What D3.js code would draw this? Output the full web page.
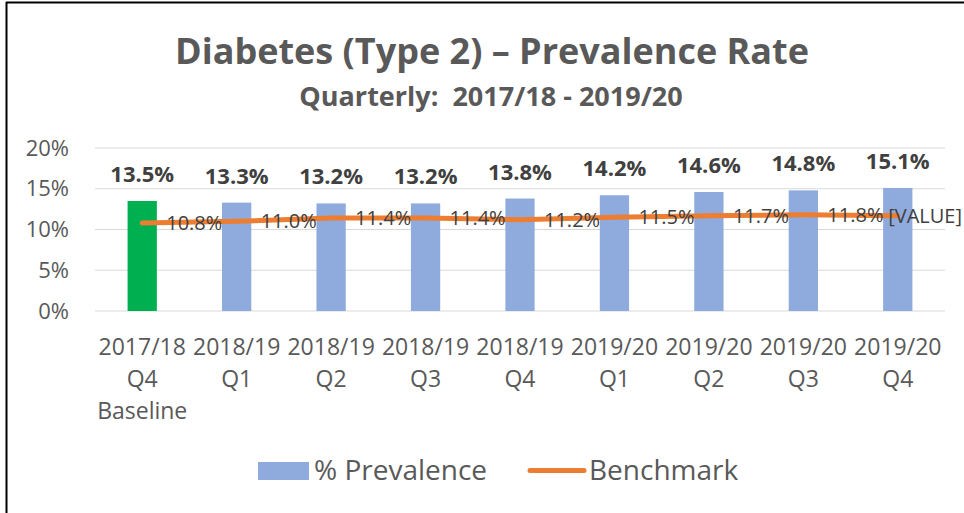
<!DOCTYPE html>
<html>
<head>
<meta charset="utf-8">
<script src="https://cdn.jsdelivr.net/npm/d3@7"></script>
<style>
  body { margin: 0; background: #fff; }
  svg { display: block; }
  text { font-family: "Open Sans", "Noto Sans", sans-serif; }
</style>
</head>
<body>
<div id="chart"></div>
<script>
const width = 964;
const height = 513;
const margin = { top: 148, right: 19, bottom: 202, left: 95 };

// data
const categories = [
    ["2017/18", "Q4", "Baseline"],
    ["2018/19", "Q1"],
    ["2018/19", "Q2"],
    ["2018/19", "Q3"],
    ["2018/19", "Q4"],
    ["2019/20", "Q1"],
    ["2019/20", "Q2"],
    ["2019/20", "Q3"],
    ["2019/20", "Q4"]
];
const prevalence = [13.5, 13.3, 13.2, 13.2, 13.8, 14.2, 14.6, 14.8, 15.1];
const benchmark = [10.8, 11.0, 11.4, 11.4, 11.2, 11.5, 11.7, 11.8, 11.7];
const benchmarkLabels = ["10.8%", "11.0%", "11.4%", "11.4%", "11.2%", "11.5%", "11.7%", "11.8%", "[VALUE]"];
const yTicks = [0, 5, 10, 15, 20];

const keys = categories.map((c, i) => i);

const svg = d3.select("#chart")
    .append("svg")
    .attr("width", width)
    .attr("height", height);

// frame (only top and left edges show)
svg.append("line")
    .attr("x1", 6).attr("x2", width).attr("y1", 2.5).attr("y2", 2.5)
    .attr("stroke", "#000").attr("stroke-width", 2);
svg.append("line")
    .attr("x1", 6.5).attr("x2", 6.5).attr("y1", 2).attr("y2", height)
    .attr("stroke", "#000").attr("stroke-width", 2);

svg.append("text")
    .attr("x", 492).attr("y", 64)
    .attr("text-anchor", "middle")
    .attr("font-size", 36).attr("font-weight", "bold")
    .attr("fill", "#595959")
    .text("Diabetes (Type 2) \u2013 Prevalence Rate");

svg.append("text")
    .attr("x", 491).attr("y", 106)
    .attr("text-anchor", "middle")
    .attr("font-size", 27).attr("font-weight", "bold")
    .attr("fill", "#595959")
    .style("white-space", "pre")
    .text("Quarterly:  2017/18 - 2019/20");

const x = d3.scaleBand()
    .domain(keys)
    .range([margin.left, width - margin.right])
    .paddingInner(0.69)
    .paddingOuter(0.345);

const y = d3.scaleLinear()
    .domain([0, 20])
    .range([height - margin.bottom, margin.top]);

// gridlines
svg.append("g")
    .selectAll("line")
    .data(yTicks)
    .join("line")
    .attr("x1", margin.left)
    .attr("x2", width - margin.right)
    .attr("y1", d => y(d))
    .attr("y2", d => y(d))
    .attr("stroke", "#d9d9d9")
    .attr("stroke-width", 1);

const yAxis = d3.axisLeft(y)
    .tickValues(yTicks)
    .tickFormat(d => d + "%")
    .tickSize(0)
    .tickPadding(26);

svg.append("g")
    .attr("transform", `translate(${margin.left},0)`)
    .call(yAxis)
    .call(g => g.select(".domain").remove())
    .selectAll("text")
    .attr("font-size", 22)
    .attr("font-family", "Open Sans")
    .attr("fill", "#595959");

// bars
svg.append("g")
    .selectAll("rect")
    .data(prevalence)
    .join("rect")
    .attr("x", (d, i) => x(i))
    .attr("y", d => y(d))
    .attr("width", x.bandwidth())
    .attr("height", d => y(0) - y(d))
    .attr("fill", (d, i) => i === 0 ? "#00b050" : "#8faadc");

svg.append("g")
    .selectAll("text")
    .data(prevalence)
    .join("text")
    .attr("x", (d, i) => x(i) + x.bandwidth() / 2)
    .attr("y", d => y(d) - 19)
    .attr("text-anchor", "middle")
    .attr("font-size", 22)
    .attr("font-weight", "bold")
    .attr("fill", "#404040")
    .text(d => d.toFixed(1) + "%");

// benchmark line
const line = d3.line()
    .x((d, i) => x(i) + x.bandwidth() / 2)
    .y(d => y(d));

svg.append("path")
    .datum(benchmark)
    .attr("d", line)
    .attr("fill", "none")
    .attr("stroke", "#ed7d31")
    .attr("stroke-width", 5)
    .attr("stroke-linecap", "round")
    .attr("stroke-linejoin", "round");

// labels sit right of each point, pulled back in if they would run off the edge
svg.append("g")
    .selectAll("text")
    .data(benchmark)
    .join("text")
    .attr("y", d => y(d) + 7)
    .attr("font-size", 20)
    .attr("fill", "#404040")
    .text((d, i) => benchmarkLabels[i])
    .attr("x", function (d, i) {
        const len = this.getComputedTextLength();
        return Math.min(x(i) + x.bandwidth() / 2 + 24, width - 2 - len);
    });

// x category labels
const xLabels = svg.append("g")
    .selectAll("text")
    .data(categories)
    .join("text")
    .attr("x", (d, i) => x(i) + x.bandwidth() / 2)
    .attr("y", 355)
    .attr("text-anchor", "middle")
    .attr("font-size", 23)
    .attr("fill", "#595959");

xLabels.selectAll("tspan")
    .data(d => d)
    .join("tspan")
    .attr("x", function () { return this.parentNode.getAttribute("x"); })
    .attr("dy", (d, i) => i === 0 ? 0 : 32)
    .text(d => d);

// legend
const legend = svg.append("g").attr("font-size", 28).attr("fill", "#595959");
legend.append("rect")
    .attr("x", 258).attr("y", 462).attr("width", 51).attr("height", 18)
    .attr("fill", "#8faadc");
legend.append("text")
    .attr("x", 314).attr("y", 480)
    .text("% Prevalence");
legend.append("line")
    .attr("x1", 530).attr("x2", 584).attr("y1", 470.5).attr("y2", 470.5)
    .attr("stroke", "#ed7d31").attr("stroke-width", 5)
    .attr("stroke-linecap", "round");
legend.append("text")
    .attr("x", 589).attr("y", 480)
    .text("Benchmark");
</script>
</body>
</html>
